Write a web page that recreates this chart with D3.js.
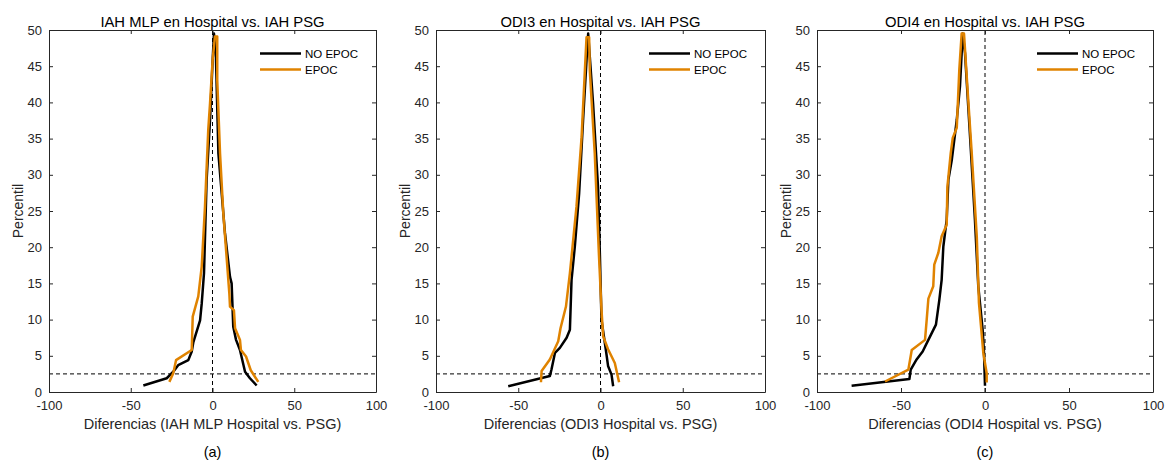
<!DOCTYPE html>
<html>
<head>
<meta charset="utf-8">
<script src="https://cdn.jsdelivr.net/npm/d3@7"></script>
<style>
  body { margin: 0; background: #fff; }
  svg { font-family: "Liberation Sans", Arial, sans-serif; }
</style>
</head>
<body>
<div id="chart"></div>
<script>
// folded percentile curves, [difference, percentile]
var iahNoEpoc = [[-42.3,0.9],[-28,1.9],[-24,2.8],[-21,3.7],[-14.8,4.4],[-12.7,5.6],[-11.7,6.9],[-7.6,9.9],[-6.6,12.2],[-5.2,16.4],[-3.6,29.3],[-1.5,37.6],[0.1,45.9],[0.9,49.5],[2.1,46.3],[3.6,33],[7.6,22],[10.7,15.9],[11.7,15],[12.7,9],[14.4,7.2],[16.8,5.8],[19.9,2.8],[22.9,1.9],[27,0.9]];
var iahEpoc = [[-26.4,1.4],[-24,2.6],[-22.3,4.4],[-12.7,5.8],[-12.1,10.4],[-8.7,13.2],[-6.6,17.3],[-4.6,25.6],[-2.6,36.2],[-1.5,39.9],[0.1,45.9],[1.5,49.1],[2.9,49.1],[2.9,43.1],[4.6,33],[6.6,24.7],[10.3,13.6],[10.7,11.8],[13.1,11.3],[13.8,8.8],[16.8,7.2],[17.4,5.8],[20.5,4.9],[23.4,3.0],[28,1.4]];

var odi3NoEpoc = [[-56.1,0.8],[-30.8,2.2],[-29.8,3.1],[-27.7,5.4],[-24.7,6.1],[-20.6,7.5],[-18.6,8.6],[-17.6,15.5],[-15.6,20.1],[-13,27.4],[-10.6,37.5],[-8.5,45.8],[-7.5,49.5],[-6.5,46.3],[-4.5,39.8],[-1.5,28.3],[-0.4,19.2],[0.6,10],[3.2,5.9],[4.6,3.6],[6.7,2.4],[7.7,0.8]];
var odi3Epoc = [[-36.2,1.35],[-35.8,2.9],[-30.8,4.5],[-25.7,7],[-24.3,8.8],[-21,11.8],[-18.6,16.4],[-14.6,25.6],[-11.5,35.2],[-9.5,44.4],[-8.5,49],[-6.9,49],[-6.5,44.4],[-3.5,33],[-1,19.2],[0.6,11.4],[1.6,7.7],[4.6,5.9],[8.7,4],[11.3,1.35]];

var odi4NoEpoc = [[-79.4,0.87],[-45,1.8],[-44.2,3.1],[-40.7,4.5],[-37.1,5.6],[-33.7,7.2],[-29.2,9.3],[-27.2,12.7],[-25.8,15.5],[-24.8,20.1],[-22.8,23.8],[-21.8,29.3],[-19.8,32],[-16.8,37.6],[-14.9,42.2],[-13.3,49.5],[-11.9,46.8],[-8.9,35.3],[-6,23.8],[-4,14.6],[-1.4,8.6],[-0.6,5.4],[0,0.87]];
var odi4Epoc = [[-59.5,1.45],[-45.6,3.1],[-43.6,5.8],[-35.7,7.2],[-34.7,10],[-33.7,12.9],[-30.8,14.6],[-30.2,17.6],[-27.8,19.2],[-25.8,21.5],[-22.8,23.1],[-22.4,28.3],[-20.4,33],[-19.2,35.1],[-16.8,36.5],[-15.3,44.5],[-13.9,49.5],[-12.5,49.5],[-10.5,42.2],[-7.9,33],[-4.9,21.5],[-3.6,12.3],[-1,5.4],[1,2.6],[1,1.3]];

var xTicks = [-100, -50, 0, 50, 100];
var yTicks = [0, 5, 10, 15, 20, 25, 30, 35, 40, 45, 50];
var seriesNames = ["NO EPOC", "EPOC"];
var seriesColors = ["#000000", "#e08300"];

var panels = [
  {title: "IAH MLP en Hospital vs. IAH PSG", xlabel: "Diferencias (IAH MLP Hospital vs. PSG)", tag: "(a)", left: 49, right: 376, data: [iahNoEpoc, iahEpoc]},
  {title: "ODI3 en Hospital vs. IAH PSG", xlabel: "Diferencias (ODI3 Hospital vs. PSG)", tag: "(b)", left: 436, right: 765, data: [odi3NoEpoc, odi3Epoc]},
  {title: "ODI4 en Hospital vs. IAH PSG", xlabel: "Diferencias (ODI4 Hospital vs. PSG)", tag: "(c)", left: 817, right: 1153, data: [odi4NoEpoc, odi4Epoc]}
];

var W = 1165, H = 463, plotTop = 30, plotBottom = 392;
var axisCol = "#262626";
var fmt = function(d) { return String(d); };

var svg = d3.select("#chart").append("svg")
    .attr("width", W)
    .attr("height", H);

panels.forEach(function(p) {
  var x = d3.scaleLinear().domain([-100, 100]).range([p.left, p.right]);
  var y = d3.scaleLinear().domain([0, 50]).range([plotBottom, plotTop]);
  var g = svg.append("g");

  // reference lines
  g.append("line")
    .attr("x1", x(-100)).attr("x2", x(100))
    .attr("y1", y(2.5)).attr("y2", y(2.5))
    .attr("stroke", "#000").attr("stroke-width", 1).attr("stroke-dasharray", "4,3");
  g.append("line")
    .attr("x1", x(0)).attr("x2", x(0))
    .attr("y1", y(0)).attr("y2", y(50))
    .attr("stroke", "#000").attr("stroke-width", 1).attr("stroke-dasharray", "4,3");

  var line = d3.line()
    .x(function(d) { return x(d[0]); })
    .y(function(d) { return y(d[1]); });

  p.data.forEach(function(s, i) {
    g.append("path")
      .datum(s)
      .attr("d", line)
      .attr("fill", "none")
      .attr("stroke", seriesColors[i])
      .attr("stroke-width", 2.5)
      .attr("stroke-linejoin", "round");
  });

  // axes, ticks inside, box on
  var bx = d3.axisBottom(x).tickValues(xTicks).tickSizeInner(-4).tickSizeOuter(0).tickPadding(9).tickFormat(fmt);
  var tx = d3.axisTop(x).tickValues(xTicks).tickSizeInner(-4).tickSizeOuter(0).tickFormat("");
  var ly = d3.axisLeft(y).tickValues(yTicks).tickSizeInner(-4).tickSizeOuter(0).tickPadding(7).tickFormat(fmt);
  var ry = d3.axisRight(y).tickValues(yTicks).tickSizeInner(-4).tickSizeOuter(0).tickFormat("");

  [[bx, "translate(0," + plotBottom + ")"], [tx, "translate(0," + plotTop + ")"],
   [ly, "translate(" + p.left + ",0)"], [ry, "translate(" + p.right + ",0)"]].forEach(function(a) {
    var ag = g.append("g").attr("transform", a[1]).call(a[0]);
    ag.attr("font-family", null).attr("font-size", null);
    ag.selectAll("path,line").attr("stroke", axisCol);
    ag.selectAll("text").attr("fill", axisCol).style("font-size", "13px");
  });

  var cx = (p.left + p.right) / 2;
  g.append("text").attr("x", cx).attr("y", 26.5).attr("text-anchor", "middle")
    .attr("fill", "#000").style("font-size", "14.8px").text(p.title);
  g.append("text").attr("x", cx).attr("y", 429).attr("text-anchor", "middle")
    .attr("fill", axisCol).style("font-size", "14.5px").text(p.xlabel);
  g.append("text").attr("transform", "translate(" + (p.left - 26.5) + "," + ((plotTop + plotBottom) / 2) + ") rotate(-90)")
    .attr("text-anchor", "middle").attr("fill", axisCol).style("font-size", "14px").text("Percentil");
  g.append("text").attr("x", cx).attr("y", 457).attr("text-anchor", "middle")
    .attr("fill", "#000").style("font-size", "14.5px").text(p.tag);

  // legend
  seriesNames.forEach(function(n, i) {
    var ly0 = 53.5 + i * 16;
    g.append("line")
      .attr("x1", p.right - 116).attr("x2", p.right - 75)
      .attr("y1", ly0).attr("y2", ly0)
      .attr("stroke", seriesColors[i]).attr("stroke-width", 2.5);
    g.append("text").attr("x", p.right - 71).attr("y", ly0).attr("dy", "0.35em")
      .attr("fill", "#000").style("font-size", "11.5px").text(n);
  });
});
</script>
</body>
</html>
